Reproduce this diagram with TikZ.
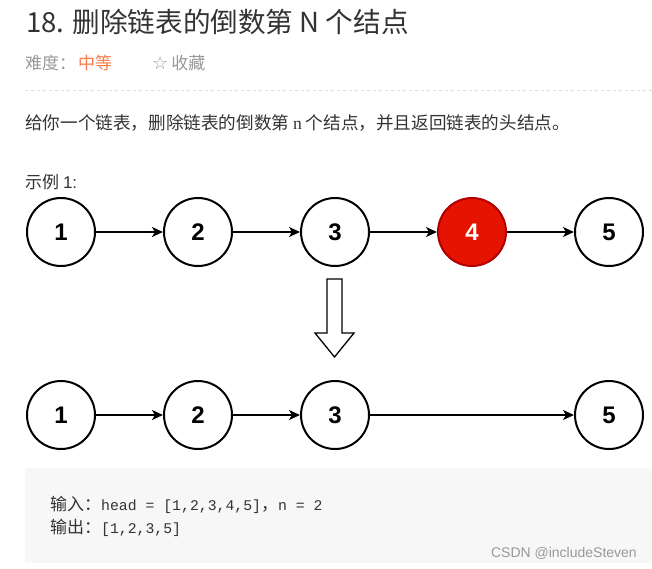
\documentclass[tikz,border=0pt]{standalone}
\usepackage{fontspec}
\setmainfont{Noto Sans CJK SC}
\newfontfamily\numfont{Liberation Sans}
\newfontfamily\codefont{Liberation Serif}
\newfontfamily\monofont{Liberation Mono}
\newfontfamily\symfont{DejaVu Sans}
\usetikzlibrary{arrows.meta}
\definecolor{titlegray}{HTML}{333333}
\definecolor{lightgray}{HTML}{999999}
\definecolor{diffcol}{HTML}{F77B47}
\definecolor{sepcol}{HTML}{DDDDDD}
\definecolor{boxcol}{HTML}{F7F7F7}
\definecolor{redfill}{HTML}{E51400}
\definecolor{redline}{HTML}{B20000}
\tikzset{
  listnode/.style={circle, draw=black, line width=2pt, minimum size=68pt, inner sep=0pt, fill=white, font=\numfont\bfseries\fontsize{24}{24}\selectfont},
  rednode/.style={listnode, fill=redfill, draw=redline, text=white},
  link/.style={line width=1.6pt, -{Stealth[length=11pt,width=10pt,inset=3pt]}},
  txt/.style={anchor=west, inner sep=0pt},
}
\begin{document}
\begin{tikzpicture}[x=1pt,y=-1pt]
\useasboundingbox (0,0) rectangle (652,568);
% header
\node[txt, text=titlegray, font=\fontsize{27.6}{27.6}\selectfont] (title) at (26,22) {18. 删除链表的倒数第 N 个结点};
\node[txt, text=lightgray, font=\fontsize{17}{17}\selectfont] (diff) at (25,63) {难度：};
\node[txt, text=diffcol, font=\fontsize{17}{17}\selectfont] (level) at (78,63) {中等};
\node[txt, text=lightgray, font=\fontsize{17}{17}\selectfont] (fav) at (152,63) {{\symfont\fontsize{18}{18}\selectfont ☆}\hspace{3pt}收藏};
\draw[sepcol, dashed, line width=0.8pt] (25,90) -- (652,90);
\node[txt, text=titlegray, font=\fontsize{17.6}{17.6}\selectfont] (desc) at (25,123) {给你一个链表，删除链表的倒数第 {\codefont n} 个结点，并且返回链表的头结点。};
\node[txt, text=titlegray, font=\fontsize{17}{17}\selectfont] (ex) at (25,182) {示例 {\numfont 1:}};
% row 1
\node[listnode] (a1) at (61,232) {1};
\node[listnode] (a2) at (198,232) {2};
\node[listnode] (a3) at (335,232) {3};
\node[rednode]  (a4) at (472,232) {4};
\node[listnode] (a5) at (609,232) {5};
\draw[link] (a1) -- (a2);
\draw[link] (a2) -- (a3);
\draw[link] (a3) -- (a4);
\draw[link] (a4) -- (a5);
% big arrow
\draw[line width=1.3pt, fill=white, line join=miter] (327,279) -- (342,279) -- (342,333) -- (354,333) -- (334.5,357) -- (315,333) -- (327,333) -- cycle;
% row 2
\node[listnode] (b1) at (61,415) {1};
\node[listnode] (b2) at (198,415) {2};
\node[listnode] (b3) at (335,415) {3};
\node[listnode] (b5) at (609,415) {5};
\draw[link] (b1) -- (b2);
\draw[link] (b2) -- (b3);
\draw[link] (b3) -- (b5);
% code box
\fill[boxcol] (25,468) rectangle (652,563);
\node[txt, text=titlegray, font=\fontsize{17}{17}\selectfont] (in) at (50,505) {输入：{\monofont\fontsize{14.8}{14.8}\selectfont head = [1,2,3,4,5]}，{\monofont\fontsize{14.8}{14.8}\selectfont n = 2}};
\node[txt, text=titlegray, font=\fontsize{17}{17}\selectfont] (out) at (50,528) {输出：{\monofont\fontsize{14.8}{14.8}\selectfont [1,2,3,5]}};
\node[anchor=east, inner sep=0pt, text=lightgray, font=\numfont\fontsize{14}{14}\selectfont] (wm) at (637,553) {CSDN @includeSteven};
\end{tikzpicture}
\end{document}
